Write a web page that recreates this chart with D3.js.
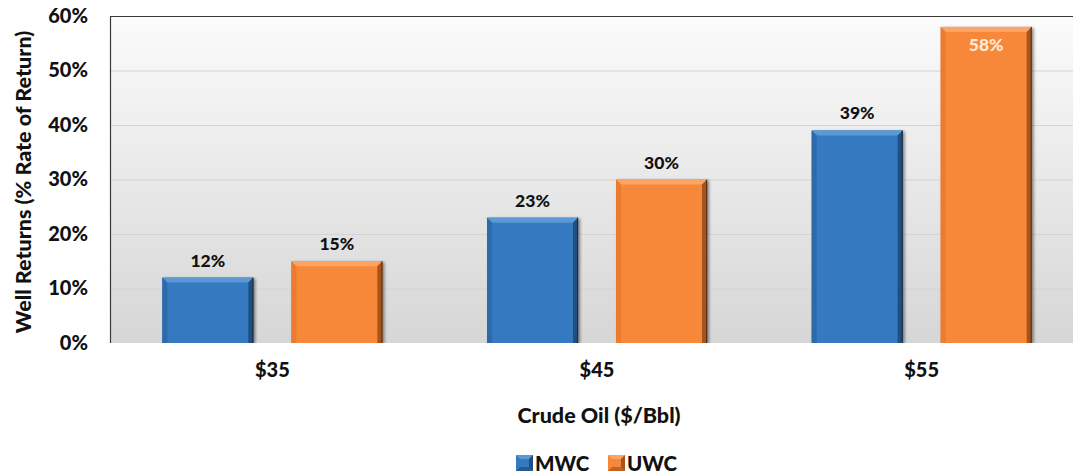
<!DOCTYPE html>
<html>
<head>
<meta charset="utf-8">
<script src="https://cdn.jsdelivr.net/npm/d3@7"></script>
<style>
  html, body { margin: 0; padding: 0; background: #ffffff; }
  svg { display: block; font-family: Lato, "Open Sans", sans-serif; }
</style>
</head>
<body>
<svg id="chart" width="1073" height="476"></svg>
<script>
const categories = ["$35", "$45", "$55"];
const seriesNames = ["MWC", "UWC"];
const mwcValues = [12, 23, 39];
const uwcValues = [15, 30, 58];
const yTicks = [0, 10, 20, 30, 40, 50, 60];

const colors = {
  MWC: { base: "#3579c0", light: "#5b98d6", dark: "#1f4e80", side: "#2d6aab" },
  UWC: { base: "#f7883a", light: "#faa565", dark: "#a8531a", side: "#ea7b2f" }
};

const svg = d3.select("#chart");
const plot = { left: 110, right: 1084, top: 16, bottom: 343 };

const x0 = d3.scaleBand().domain(categories).range([plot.left, plot.right]).paddingInner(0).paddingOuter(0);
const x1 = d3.scaleBand().domain(seriesNames).range([0, x0.bandwidth()]).paddingInner(0.2946).paddingOuter(0.4057);
const y = d3.scaleLinear().domain([0, 60]).range([plot.bottom, plot.top]);

const defs = svg.append("defs");
const bg = defs.append("linearGradient").attr("id", "bgGrad").attr("x1", 0).attr("y1", 0).attr("x2", 0).attr("y2", 1);
bg.append("stop").attr("offset", "0%").attr("stop-color", "#fbfbfb");
bg.append("stop").attr("offset", "100%").attr("stop-color", "#d6d6d6");
const blur = defs.append("filter").attr("id", "shadow").attr("x", "-20%").attr("y", "-20%").attr("width", "140%").attr("height", "140%");
blur.append("feGaussianBlur").attr("stdDeviation", 1.6);

const clip = defs.append("clipPath").attr("id", "plotClip");
clip.append("rect").attr("x", plot.left).attr("y", plot.top).attr("width", plot.right - plot.left).attr("height", plot.bottom - plot.top);

// Background
svg.append("rect")
  .attr("x", plot.left).attr("y", plot.top)
  .attr("width", plot.right - plot.left).attr("height", plot.bottom - plot.top)
  .attr("fill", "url(#bgGrad)");

// Gridlines
svg.append("g").selectAll("line").data(yTicks.filter(t => t > 0 && t < 60)).join("line")
  .attr("x1", plot.left).attr("x2", plot.right)
  .attr("y1", d => y(d) + 0.5).attr("y2", d => y(d) + 0.5)
  .attr("stroke", "#d4d4d4").attr("stroke-width", 1);

// Top border and left axis
svg.append("line").attr("x1", plot.left).attr("x2", plot.right)
  .attr("y1", y(60) + 0.5).attr("y2", y(60) + 0.5).attr("stroke", "#3a3a3a").attr("stroke-width", 1.2);
svg.append("line").attr("x1", plot.left + 0.5).attr("x2", plot.left + 0.5)
  .attr("y1", y(60)).attr("y2", y(0)).attr("stroke", "#3a3a3a").attr("stroke-width", 1.2);

// Y tick labels
const yAxis = d3.axisLeft(y).tickValues(yTicks).tickFormat(d => d + "%").tickSize(0).tickPadding(22);
const yG = svg.append("g").attr("transform", `translate(${plot.left},0)`).call(yAxis);
yG.select(".domain").remove();
yG.selectAll("text").attr("font-family", "Lato, sans-serif").attr("font-weight", 900)
  .attr("font-size", 20).attr("fill", "#111");

// X labels
const xAxis = d3.axisBottom(x0).tickSize(0).tickPadding(20);
const xG = svg.append("g").attr("transform", `translate(0,${plot.bottom})`).call(xAxis);
xG.select(".domain").remove();
xG.selectAll("text").attr("font-family", "Lato, sans-serif").attr("font-weight", 900)
  .attr("font-size", 20).attr("fill", "#111");

// Bars
const data = categories.map((c, i) => ({ cat: c, values: [{ s: "MWC", v: mwcValues[i] }, { s: "UWC", v: uwcValues[i] }] }));
const bevel = 5;

const groups = svg.append("g").attr("clip-path", "url(#plotClip)")
  .selectAll("g.cat").data(data).join("g").attr("class", "cat")
  .attr("transform", d => `translate(${x0(d.cat)},0)`);

const bars = groups.selectAll("g.bar").data(d => d.values).join("g").attr("class", "bar");

bars.each(function(d) {
  const g = d3.select(this);
  const bx = x1(d.s), bw = x1.bandwidth();
  const by = y(d.v), bh = y(0) - y(d.v);
  const c = colors[d.s];
  g.append("rect").attr("x", bx + 2).attr("y", by + 1).attr("width", bw).attr("height", bh)
    .attr("fill", "rgba(0,0,0,0.45)").attr("filter", "url(#shadow)");
  g.append("rect").attr("x", bx).attr("y", by).attr("width", bw).attr("height", bh).attr("fill", c.base);
  g.append("polygon").attr("points", [[bx, by], [bx + bw, by], [bx + bw - bevel, by + bevel], [bx + bevel, by + bevel]].join(" "))
    .attr("fill", c.light);
  g.append("polygon").attr("points", [[bx, by], [bx + bevel, by + bevel], [bx + bevel, by + bh], [bx, by + bh]].join(" "))
    .attr("fill", c.side);
  g.append("polygon").attr("points", [[bx + bw, by], [bx + bw, by + bh], [bx + bw - bevel, by + bh], [bx + bw - bevel, by + bevel]].join(" "))
    .attr("fill", c.dark);
  g.append("rect").attr("x", bx + bw - 1).attr("y", by).attr("width", 1.2).attr("height", bh).attr("fill", "#1a1a1a").attr("opacity", 0.6);
});

// Data labels
groups.selectAll("text.val").data(d => d.values).join("text").attr("class", "val")
  .attr("x", d => x1(d.s) + x1.bandwidth() / 2)
  .attr("y", d => d.v >= 50 ? y(d.v) + 24 : y(d.v) - 11)
  .attr("text-anchor", "middle")
  .attr("font-family", "Lato, sans-serif").attr("font-weight", 900).attr("font-size", 17.5)
  .attr("fill", d => d.v >= 50 ? "#fbe9dc" : "#111")
  .text(d => d.v + "%");

// Axis titles
svg.append("text").attr("x", 599).attr("y", 423).attr("text-anchor", "middle")
  .attr("font-family", "Lato, sans-serif").attr("font-weight", 900).attr("font-size", 21.5).attr("fill", "#111")
  .text("Crude Oil ($/Bbl)");
svg.append("text").attr("transform", "translate(31,182) rotate(-90)").attr("text-anchor", "middle")
  .attr("font-family", "Lato, sans-serif").attr("font-weight", 900).attr("font-size", 21.5).attr("fill", "#111")
  .text("Well Returns (% Rate of Return)");

// Legend
const legendX = [516, 608];
const legend = svg.append("g").selectAll("g").data(seriesNames).join("g")
  .attr("transform", (d, i) => `translate(${legendX[i]},455)`);
legend.each(function(s) {
  const g = d3.select(this), c = colors[s], w = 17, h = 16, b = 4;
  g.append("rect").attr("width", w).attr("height", h).attr("fill", c.base);
  g.append("polygon").attr("points", [[0, 0], [w, 0], [w - b, b], [b, b]].join(" ")).attr("fill", c.light);
  g.append("polygon").attr("points", [[w, 0], [w, h], [w - b, h - b], [w - b, b]].join(" ")).attr("fill", c.dark);
  g.append("polygon").attr("points", [[0, h], [w, h], [w - b, h - b], [b, h - b]].join(" ")).attr("fill", c.dark).attr("opacity", 0.7);
  g.append("text").attr("x", 19).attr("y", 16)
    .attr("font-family", "Lato, sans-serif").attr("font-weight", 900).attr("font-size", 20.5).attr("fill", "#111")
    .text(s);
});
</script>
</body>
</html>
